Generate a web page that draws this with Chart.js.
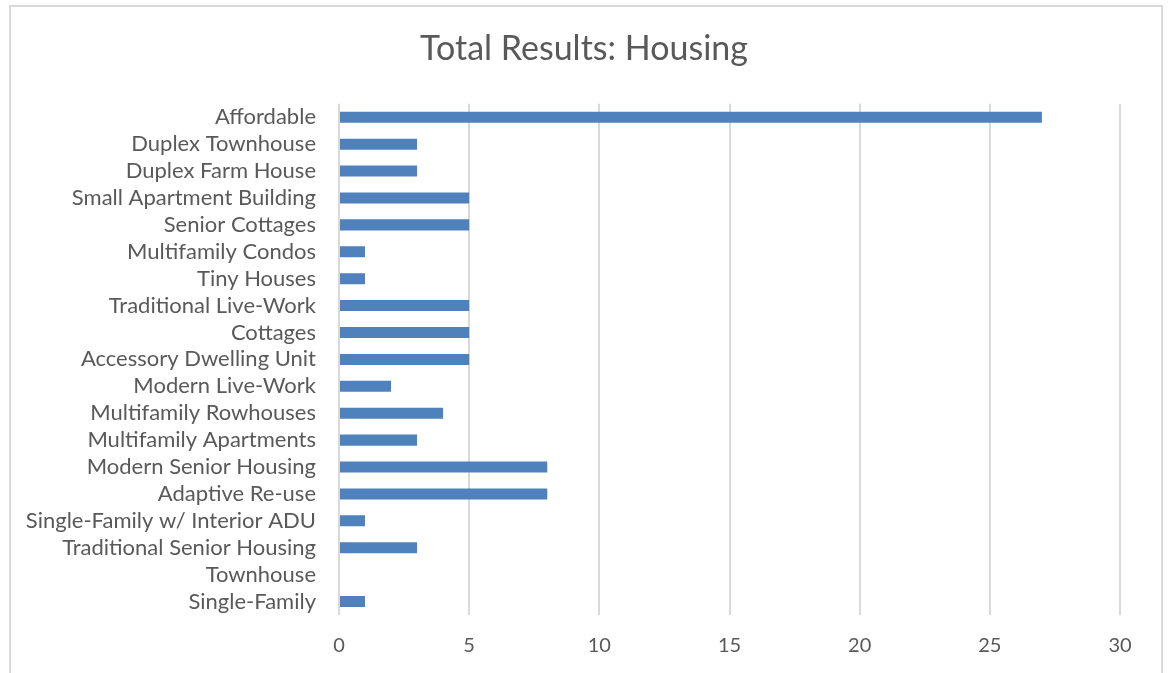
<!DOCTYPE html>
<html>
<head>
<meta charset="utf-8">
<script src="https://cdn.jsdelivr.net/npm/chart.js@4"></script>
<style>
  html, body { margin: 0; padding: 0; background: #fff; overflow: hidden; }
  #frame { position: absolute; left: 9px; top: 5px; width: 1150px; height: 700px; border: 2px solid #d9d9d9; }
  #wrap { position: absolute; left: 0; top: 0; width: 1168px; height: 673px; }
</style>
</head>
<body>
<div id="frame"></div>
<div id="wrap"><canvas id="grafico"></canvas></div>
<script>
// Categorías y valores del gráfico
const categorias = [
    'Affordable',
    'Duplex Townhouse',
    'Duplex Farm House',
    'Small Apartment Building',
    'Senior Cottages',
    'Multifamily Condos',
    'Tiny Houses',
    'Traditional Live-Work',
    'Cottages',
    'Accessory Dwelling Unit',
    'Modern Live-Work',
    'Multifamily Rowhouses',
    'Multifamily Apartments',
    'Modern Senior Housing',
    'Adaptive Re-use',
    'Single-Family w/ Interior ADU',
    'Traditional Senior Housing',
    'Townhouse',
    'Single-Family'
];
const valores = [27, 3, 3, 5, 5, 1, 1, 5, 5, 5, 2, 4, 3, 8, 8, 1, 3, 0, 1];
const ticksX = [0, 5, 10, 15, 20, 25, 30];

const fuente = "Lato, sans-serif";
const gris = '#595959';

document.addEventListener('DOMContentLoaded', function () {
    const ctx = document.getElementById('grafico').getContext('2d');
    new Chart(ctx, {
        type: 'bar',
        data: {
            labels: categorias,
            datasets: [{
                label: 'Housing',
                data: valores,
                backgroundColor: '#4f81bd',
                borderWidth: 0,
                barPercentage: 0.41,
                categoryPercentage: 1
            }]
        },
        options: {
            indexAxis: 'y',
            responsive: true,
            maintainAspectRatio: false,
            animation: false,
            layout: { padding: { left: 0, right: 0, top: 0, bottom: 16 } },
            plugins: {
                legend: { display: false },
                tooltip: { enabled: false },
                title: {
                    display: true,
                    text: 'Total Results: Housing',
                    color: gris,
                    font: { family: fuente, size: 34, weight: 'normal' },
                    padding: { top: 29, bottom: 34 }
                }
            },
            scales: {
                x: {
                    min: 0,
                    max: 30,
                    afterBuildTicks: function (scale) {
                        scale.ticks = ticksX.map(v => ({ value: v }));
                    },
                    afterFit: function (scale) { scale.height = 42; },
                    grid: { color: '#d9d9d9', lineWidth: 2, drawTicks: false },
                    border: { display: false },
                    ticks: { color: gris, padding: 19, font: { family: fuente, size: 20 } }
                },
                y: {
                    afterFit: function (scale) { scale.width = 339; },
                    grid: { display: false, drawTicks: false },
                    border: { display: false },
                    ticks: { color: gris, padding: 23, autoSkip: false, font: { family: fuente, size: 22 } }
                },
                // eje vacío a la derecha, solo reserva margen
                margenDerecho: {
                    type: 'linear',
                    position: 'right',
                    afterFit: function (scale) { scale.width = 48; },
                    grid: { display: false, drawTicks: false },
                    border: { display: false },
                    ticks: { display: false }
                }
            }
        }
    });
});
</script>
</body>
</html>
